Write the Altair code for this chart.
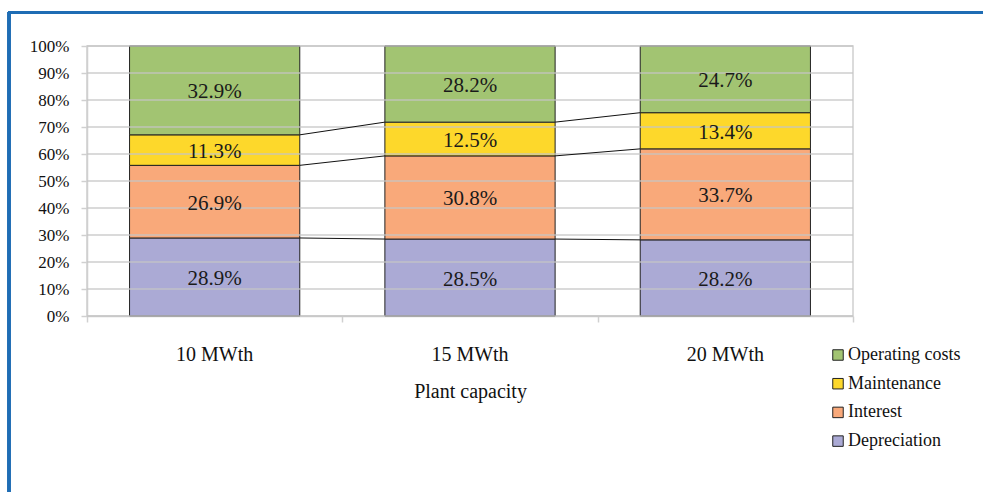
import altair as alt
import pandas as pd

# Share of levelised heat cost by component, per plant size
capacities = ["10 MWth", "15 MWth", "20 MWth"]
series = ["Operating costs", "Maintenance", "Interest", "Depreciation"]
depreciation = [28.9, 28.5, 28.2]
interest = [26.9, 30.8, 33.7]
maintenance = [11.3, 12.5, 13.4]
operating = [32.9, 28.2, 24.7]
y_ticks = [0, 10, 20, 30, 40, 50, 60, 70, 80, 90, 100]
colors = ["#A2C472", "#FDD82B", "#F9A97A", "#ABAAD5"]

values = {
    "Depreciation": depreciation,
    "Interest": interest,
    "Maintenance": maintenance,
    "Operating costs": operating,
}
stack_rank = {"Depreciation": 0, "Interest": 1, "Maintenance": 2, "Operating costs": 3}

rows = []
for s, vals in values.items():
    for i, (c, v) in enumerate(zip(capacities, vals)):
        rows.append({"cap": c, "ci": i, "series": s, "rank": stack_rank[s], "value": v})
df = pd.DataFrame(rows)
grid_df = pd.DataFrame({"tick": y_ticks})

FONT = "Liberation Serif"
W, H = 766, 270
PAD_L, PAD_T = 87, 46
AXIS_GREY = "#D0D0D0"
GAP = W / 3 / 6  # half of the gap between neighbouring bars

x_scale = alt.Scale(paddingInner=1 / 3, paddingOuter=1 / 6)
y_scale = alt.Scale(domain=[0, 1], nice=False)

# One shared y-axis definition, used by every layer so the merged axis keeps it
y_axis = alt.Axis(
    values=[t / 100 for t in y_ticks], format=".0%", labelFont=FONT,
    labelFontSize=17, labelColor="#111", labelPadding=12, tickSize=6,
    tickColor=AXIS_GREY, tickWidth=1.5, domainColor=AXIS_GREY,
    domainWidth=1.5, grid=False, labelOverlap=False, title=None,
)

# Stack the shares (in percent) and express them as fractions for the axis
base = alt.Chart(df).transform_stack(
    stack="value", as_=["s0", "s1"], groupby=["cap"], sort=[alt.SortField("rank")]
).transform_calculate(
    y0="datum.s0 / 100",
    y1="datum.s1 / 100",
    mid="(datum.s0 + datum.s1) / 200",
    label="format(datum.value, '.1f') + '%'",
)

bars = base.mark_bar(stroke="#222", strokeWidth=1).encode(
    x=alt.X(
        "cap:N", sort=capacities, title="Plant capacity", scale=x_scale,
        axis=alt.Axis(
            orient="bottom", labelFont=FONT, labelFontSize=20, labelColor="#111",
            labelPadding=28, titleFont=FONT, titleFontSize=20,
            titleFontWeight="normal", titleColor="#111", titlePadding=17,
            domainColor=AXIS_GREY, domainWidth=1.5, ticks=False, labelAngle=0,
        ),
    ),
    y=alt.Y("y0:Q", scale=y_scale, title=None, axis=y_axis),
    y2="y1:Q",
    color=alt.Color(
        "series:N",
        scale=alt.Scale(domain=series, range=colors),
        legend=alt.Legend(
            title=None, orient="none", legendX=742, legendY=300,
            symbolType="square", symbolSize=110, symbolStrokeColor="#222",
            symbolStrokeWidth=1, symbolOpacity=1, labelFont=FONT,
            labelFontSize=18, labelColor="#111", rowPadding=10.7, labelOffset=1,
        ),
    ),
)

# Category-boundary tick marks along the x axis
boundary_ticks = base.mark_rule(opacity=0).encode(
    x=alt.X(
        "cap:N", sort=capacities, title=None,
        axis=alt.Axis(
            orient="bottom", bandPosition=0, tickOffset=-GAP, labels=False,
            domain=False, ticks=True, tickSize=6, tickColor=AXIS_GREY,
            tickWidth=1.5, title=None,
        ),
    ),
)
end_tick = base.mark_rule(opacity=0).encode(
    x=alt.X(
        "cap:N", sort=capacities, title=None,
        axis=alt.Axis(
            orient="bottom", bandPosition=1, tickOffset=GAP,
            values=[capacities[-1]], labels=False, domain=False, ticks=True,
            tickSize=6, tickColor=AXIS_GREY, tickWidth=1.5, title=None,
        ),
    ),
)

# Light gridlines drawn on top of the bars
grid = alt.Chart(grid_df).transform_calculate(t="datum.tick / 100").mark_rule(
    color="#C4C4C4", strokeWidth=1.5, opacity=0.85
).encode(
    y=alt.Y("t:Q", scale=y_scale, title=None, axis=y_axis),
    x=alt.value(0),
    x2=alt.value(W),
)

# Series lines joining the top of each segment across neighbouring bars
connectors = base.transform_window(
    next_cap="lead(cap)", next_y1="lead(y1)", groupby=["series"], sort=[alt.SortField("ci")]
).transform_filter(
    "datum.next_cap != null && datum.series != 'Operating costs'"
).mark_rule(color="#111", strokeWidth=1).encode(
    x=alt.X("cap:N", sort=capacities, bandPosition=1, axis=None),
    x2=alt.X2("next_cap", bandPosition=0),
    y=alt.Y("y1:Q", scale=y_scale, title=None, axis=y_axis),
    y2="next_y1:Q",
)

labels = base.mark_text(font=FONT, fontSize=21, color="#1a1a1a", dy=2).encode(
    x=alt.X("cap:N", sort=capacities, axis=None),
    y=alt.Y("mid:Q", scale=y_scale, title=None, axis=y_axis),
    text="label:N",
)

# Blue frame around the figure (top and left edges)
frame_top = alt.Chart(grid_df).mark_rule(color="#1F6DB4", strokeWidth=2.5).encode(
    x=alt.value(8 - PAD_L), x2=alt.value(983 - PAD_L),
    y=alt.value(12.5 - PAD_T),
)
frame_left = alt.Chart(grid_df).mark_rule(color="#1F6DB4", strokeWidth=2.5).encode(
    x=alt.value(9 - PAD_L),
    y=alt.value(12 - PAD_T), y2=alt.value(492 - PAD_T),
)

chart = alt.layer(
    bars, boundary_ticks, end_tick, grid, connectors, labels, frame_top, frame_left
).resolve_axis(x="independent").properties(
    width=W, height=H,
    padding={"left": PAD_L, "top": PAD_T, "right": 983 - PAD_L - W, "bottom": 492 - PAD_T - H},
    autosize=alt.AutoSizeParams(type="none"),
    background="white",
).configure_view(stroke=AXIS_GREY, strokeWidth=1.5)

chart.save("out.html", embed_options={"renderer": "svg", "actions": False})
